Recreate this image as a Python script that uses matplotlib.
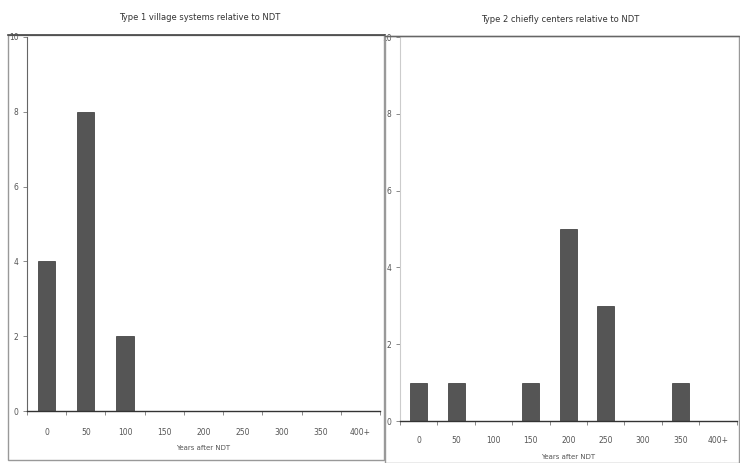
import numpy as np
import matplotlib
matplotlib.use('Agg')
import matplotlib.pyplot as plt
from matplotlib.patches import Rectangle
from matplotlib.lines import Line2D

# data
categories = ['0', '50', '100', '150', '200', '250', '300', '350', '400+']
type1_counts = [4, 8, 2, 0, 0, 0, 0, 0, 0]
type2_counts = [1, 1, 0, 1, 5, 3, 0, 1, 0]
yticks = [0, 2, 4, 6, 8, 10]

title1 = 'Type 1 village systems relative to NDT'
title2 = 'Type 2 chiefly centers relative to NDT'
xlab = 'Years after NDT'

bar_col = '#555555'
txt_col = '#555555'
fs = 5.5

fig = plt.figure(figsize=(7.4, 4.63), dpi=100)

# panel frames
fig.patches.append(Rectangle((0.011, 0.0065), 0.508, 0.918, transform=fig.transFigure,
                             fill=False, edgecolor='#999999', linewidth=1.0))
fig.patches.append(Rectangle((0.520, 0.0), 0.479, 0.922, transform=fig.transFigure,
                             fill=False, edgecolor='#999999', linewidth=1.0))
# darker top edges as in the scan
fig.lines.append(Line2D([0.011, 0.519], [0.9245, 0.9245], transform=fig.transFigure,
                        color='#444444', linewidth=1.2))
fig.lines.append(Line2D([0.520, 0.999], [0.922, 0.922], transform=fig.transFigure,
                        color='#666666', linewidth=1.0))

def draw_panel(ax, counts, width, left_col, tpad):
	x = np.arange(len(categories))
	ax.bar(x, counts, width=width, color=bar_col, edgecolor='#333333', linewidth=0.5)
	ax.set_xlim(-0.5, len(categories) - 0.5)
	ax.set_ylim(0, 10)
	ax.set_yticks(yticks)
	ax.set_yticklabels([str(t) for t in yticks], fontsize=fs, color=txt_col)
	ax.set_xticks(x)
	ax.set_xticklabels(categories, fontsize=fs, color=txt_col)
	# Excel-like ticks between categories
	ax.set_xticks(np.arange(len(categories) + 1) - 0.5, minor=True)
	ax.tick_params(axis='x', which='major', length=0, pad=tpad)
	ax.tick_params(axis='x', which='minor', length=3, color='#777777', width=0.6)
	ax.tick_params(axis='y', length=3, color='#777777', width=0.6, pad=3)
	for s in ['top', 'right']:
		ax.spines[s].set_visible(False)
	ax.spines['bottom'].set_color('#333333')
	ax.spines['bottom'].set_linewidth(1.0)
	ax.spines['left'].set_color(left_col)
	ax.spines['left'].set_linewidth(0.8)
	ax.set_xlabel(xlab, fontsize=fs - 0.5, color=txt_col, labelpad=6)

ax1 = fig.add_axes([0.0365, 0.1123, 0.477, 0.808])
draw_panel(ax1, type1_counts, 0.44, '#666666', 12)

ax2 = fig.add_axes([0.5405, 0.0907, 0.455, 0.829])
draw_panel(ax2, type2_counts, 0.45, '#cccccc', 11)

fig.text(0.27, 0.963, title1, ha='center', va='center', fontsize=fs + 0.5, color='#333333')
fig.text(0.757, 0.958, title2, ha='center', va='center', fontsize=fs + 0.5, color='#333333')

fig.savefig('out.png', dpi=100)
